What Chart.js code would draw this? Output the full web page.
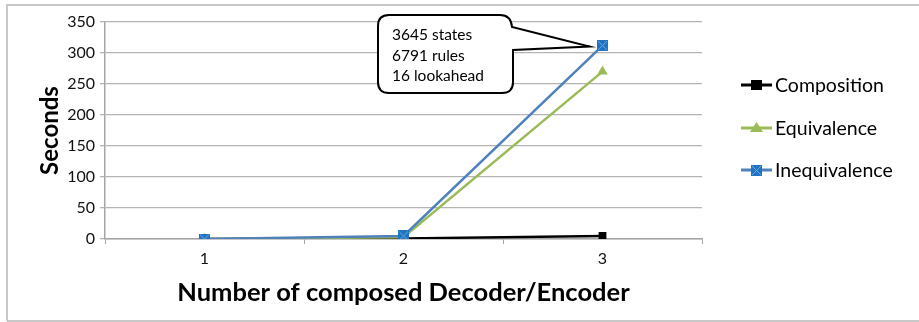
<!DOCTYPE html>
<html>
<head>
<meta charset="utf-8">
<script src="https://cdn.jsdelivr.net/npm/chart.js@4"></script>
<style>
  body { margin: 0; background: #fff; }
  #wrap { width: 919px; height: 322px; position: relative; }
</style>
</head>
<body>
<div id="wrap"><canvas id="chart" width="919" height="322"></canvas></div>
<script>
// data
const categories = ["1", "2", "3"];
const composition = [0, 1, 5];
const equivalence = [0, 3, 270];
const inequivalence = [0, 5, 312];
const yTicks = [0, 50, 100, 150, 200, 250, 300, 350];
const calloutLines = ["3645 states", "6791 rules", "16 lookahead"];

const FONT = "Lato, 'Open Sans', sans-serif";

// blue square marker with a thin cross, like the Excel one
function crossSquare(size) {
  const c = document.createElement("canvas");
  c.width = size; c.height = size;
  const g = c.getContext("2d");
  g.fillStyle = "#1f74c4";
  g.fillRect(0, 0, size, size);
  g.strokeStyle = "#6fa6dc";
  g.lineWidth = 1;
  g.beginPath();
  g.moveTo(1, 1); g.lineTo(size - 1, size - 1);
  g.moveTo(size - 1, 1); g.lineTo(1, size - 1);
  g.stroke();
  return c;
}
const blueMarker = crossSquare(11);

const series = [
  { label: "Composition", data: composition, color: "#000000", fill: "#000000", style: "rect", radius: 5.5, order: 3 },
  { label: "Equivalence", data: equivalence, color: "#9bbb59", fill: "#9bbb59", style: "triangle", radius: 6, order: 2 },
  { label: "Inequivalence", data: inequivalence, color: "#4f81bd", fill: "#1f74c4", style: blueMarker, radius: 6, order: 1 },
];

// frame, legend and callout
const extras = {
  id: "extras",
  beforeDraw(chart) {
    const ctx = chart.ctx;
    ctx.save();
    ctx.strokeStyle = "#c8c8c8";
    ctx.lineWidth = 2;
    ctx.beginPath();
    ctx.moveTo(7, 321); ctx.lineTo(7, 5); ctx.lineTo(919, 5);
    ctx.moveTo(7, 321); ctx.lineTo(919, 321);
    ctx.stroke();
    ctx.restore();
  },
  afterDraw(chart) {
    const ctx = chart.ctx;
    ctx.save();
    // legend
    const ys = [85, 128, 170];
    series.forEach((s, i) => {
      const y = ys[i];
      ctx.strokeStyle = s.color;
      ctx.lineWidth = 3;
      ctx.beginPath();
      ctx.moveTo(741, y); ctx.lineTo(772, y);
      ctx.stroke();
      if (s.style === "rect") {
        ctx.fillStyle = s.fill;
        ctx.fillRect(751, y - 5, 11, 10);
      } else if (s.style === "triangle") {
        ctx.fillStyle = s.fill;
        ctx.beginPath();
        ctx.moveTo(756.5, y - 6); ctx.lineTo(763, y + 4); ctx.lineTo(750, y + 4);
        ctx.closePath(); ctx.fill();
      } else {
        ctx.drawImage(s.style, 751, y - 5, 11, 11);
      }
      ctx.fillStyle = "#000";
      ctx.font = "19.5px " + FONT;
      ctx.textBaseline = "middle";
      ctx.fillText(s.label, 775, y + 1);
    });

    // callout pointing at the last Inequivalence point
    const xs = chart.scales.x, yS = chart.scales.y;
    const tipX = xs.getPixelForValue(2) - 13;
    const tipY = yS.getPixelForValue(inequivalence[2]) + 1;
    const bx = 378, by = 15, bw = 135, bh = 78, r = 11;
    ctx.beginPath();
    ctx.moveTo(bx + r, by);
    ctx.lineTo(bx + bw - r - 2, by);
    ctx.quadraticCurveTo(bx + bw - 2, by, bx + bw - 1, by + 12);
    ctx.lineTo(tipX, tipY);
    ctx.lineTo(bx + bw, by + 35);
    ctx.lineTo(bx + bw, by + bh - r);
    ctx.quadraticCurveTo(bx + bw, by + bh, bx + bw - r, by + bh);
    ctx.lineTo(bx + r, by + bh);
    ctx.quadraticCurveTo(bx, by + bh, bx, by + bh - r);
    ctx.lineTo(bx, by + r);
    ctx.quadraticCurveTo(bx, by, bx + r, by);
    ctx.closePath();
    ctx.fillStyle = "#fff";
    ctx.fill();
    ctx.strokeStyle = "#000";
    ctx.lineWidth = 2;
    ctx.stroke();
    ctx.fillStyle = "#000";
    ctx.font = "15.5px " + FONT;
    ctx.textBaseline = "middle";
    calloutLines.forEach((t, i) => ctx.fillText(t, 392, 35 + i * 20.5));
    ctx.restore();
  }
};

new Chart(document.getElementById("chart"), {
  type: "line",
  data: {
    labels: categories,
    datasets: series.map(s => ({
      label: s.label,
      data: s.data,
      borderColor: s.color,
      backgroundColor: s.fill,
      borderWidth: 2.5,
      pointStyle: s.style,
      pointRadius: s.radius,
      pointHoverRadius: s.radius,
      pointBorderWidth: 0,
      tension: 0,
      order: s.order,
    })),
  },
  options: {
    responsive: false,
    animation: false,
    events: [],
    layout: { padding: { left: 0, right: 217, top: 22, bottom: 0 } },
    plugins: { legend: { display: false }, tooltip: { enabled: false } },
    scales: {
      x: {
        offset: true,
        afterFit: s => { s.height = 83; },
        grid: { display: true, drawOnChartArea: false, offset: true, color: "#a6a6a6", tickLength: 5 },
        border: { color: "#a6a6a6", width: 1.5 },
        ticks: { color: "#111", font: { family: FONT, size: 16 }, padding: 5 },
        title: {
          display: true,
          text: "Number of composed Decoder/Encoder",
          color: "#000",
          font: { family: FONT, size: 25.5, weight: "bold" },
          padding: { top: 0, bottom: 14 },
        },
      },
      y: {
        min: 0,
        max: 350,
        afterFit: s => { s.width = 105; },
        afterBuildTicks: s => { s.ticks = yTicks.map(v => ({ value: v })); },
        grid: { color: "#b4b4b4", lineWidth: 1.3, tickLength: 5 },
        border: { color: "#a6a6a6", width: 1.5 },
        ticks: { color: "#111", font: { family: FONT, size: 16 }, padding: 5 },
        title: {
          display: true,
          text: "Seconds",
          color: "#000",
          font: { family: FONT, size: 24, weight: "bold" },
          padding: { top: 36, bottom: 0 },
        },
      },
    },
  },
  plugins: [extras],
});
</script>
</body>
</html>
